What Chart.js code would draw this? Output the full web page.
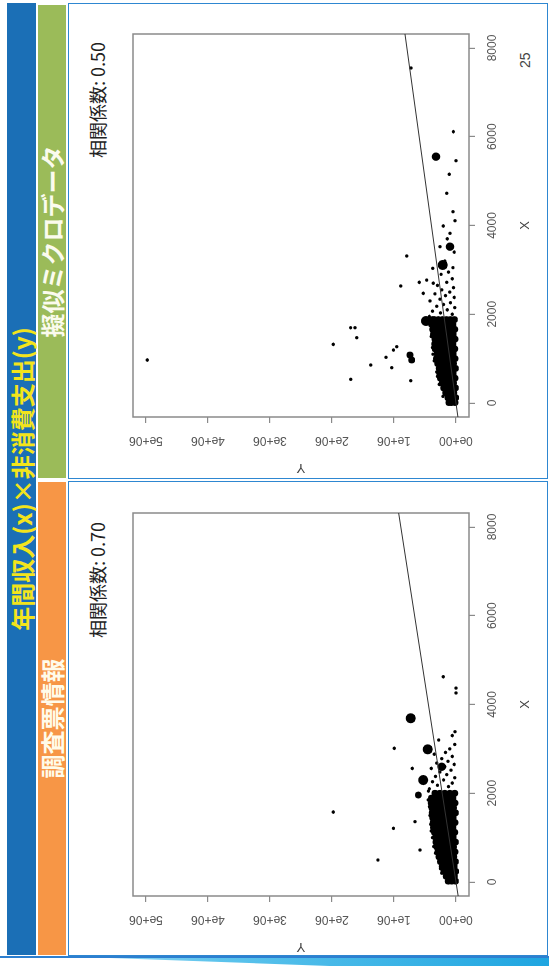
<!DOCTYPE html>
<html>
<head>
<meta charset="utf-8">
<script src="https://cdn.jsdelivr.net/npm/chart.js@4.4.0/dist/chart.umd.min.js"></script>
<style>
html, body { margin: 0; padding: 0; background: #fff; width: 549px; height: 966px; overflow: hidden; }
#slide { position: absolute; left: 0; top: 0; width: 966px; height: 549px; transform-origin: 0 0;
         transform: translate(0, 966px) rotate(-90deg); font-family: "Noto Sans CJK JP", sans-serif; }
.band { position: absolute; text-align: center; font-weight: bold; white-space: nowrap; }
.panel { position: absolute; top: 68px; height: 480px; border: 1.5px solid #2e87d1; box-sizing: border-box; }
.corr { position: absolute; top: 85px; font-size: 18px; line-height: 24px; color: #222; white-space: nowrap; }
canvas { position: absolute; top: 68px; }
#swoosh1 { position: absolute; left: 0; top: 956px; width: 549px; height: 2px; background: #2d7fd0; }
#swoosh2 { position: absolute; left: 0; top: 958px; width: 549px; height: 8px;
           background: linear-gradient(90deg, #bfe6f7 0%, #5cc3ec 40%, #1fa5e0 100%);
           clip-path: polygon(20% 0, 100% 0, 100% 100%, 60% 100%); }
</style>
</head>
<body>
<div id="slide">
  <div class="band" style="left:11px;top:7px;width:952px;height:29px;line-height:29px;background:#1b6fb6;color:#f3e41c;font-size:24px;">年間収入(x)×非消費支出(y)</div>
  <div class="band" style="left:11px;top:38px;width:473px;height:28px;line-height:28px;background:#f79646;color:#fffbea;font-size:24px;">調査票情報</div>
  <div class="band" style="left:488px;top:38px;width:473px;height:28px;line-height:28px;background:#9bbb59;color:#fbfbee;font-size:24px;">擬似ミクロデータ</div>
  <div class="panel" style="left:10px;width:475px;"></div>
  <div class="panel" style="left:487px;width:476px;"></div>
  <div class="corr" style="left:328px;">相関係数: 0.70</div>
  <div class="corr" style="left:808px;">相関係数: 0.50</div>
  <div style="position:absolute;left:898px;top:517px;font-size:14px;color:#444;font-family:'Liberation Sans',Arial,sans-serif;">25</div>
  <canvas id="survey" width="460" height="470" style="left:10px;"></canvas>
  <canvas id="synthetic" width="460" height="470" style="left:489px;"></canvas>
</div>
<div id="swoosh1"></div>
<div id="swoosh2"></div>

<script>
// axes (年間収入 x, 非消費支出 y)
const xTickValues = [0, 2000, 4000, 6000, 8000];
const yTickValues = [0, 1000000, 2000000, 3000000, 4000000, 5000000];
const xRange = [-315, 8315];
const yRange = [-209700, 5209700];

// 調査票情報: [年間収入, 非消費支出, 重み]
const surveyPoints = [
  [20,10000,2],[20,70000,2],[20,125000,2],
  [130,25000,2],[130,95000,2],[130,160000,2],
  [240,5000,2],[240,75000,2],[240,140000,2],[240,195000,2],
  [350,30000,2],[350,100000,2],[350,170000,2],[350,225000,2],
  [460,10000,2],[460,80000,2],[460,150000,2],[460,215000,2],[460,250000,2],
  [570,35000,2],[570,105000,2],[570,175000,2],[570,240000,2],[570,275000,2],
  [680,15000,2],[680,85000,2],[680,155000,2],[680,225000,2],[680,290000,2],
  [790,40000,2],[790,110000,2],[790,180000,2],[790,250000,2],[790,310000,2],
  [900,10000,2],[900,80000,2],[900,150000,2],[900,220000,2],[900,285000,2],[900,325000,2],
  [1010,45000,2],[1010,115000,2],[1010,185000,2],[1010,255000,2],[1010,330000,2],
  [1120,20000,2],[1120,90000,2],[1120,160000,2],[1120,230000,2],[1120,300000,2],[1120,350000,2],
  [1230,50000,2],[1230,120000,2],[1230,190000,2],[1230,260000,2],[1230,330000,2],[1230,365000,2],
  [1340,15000,2],[1340,85000,2],[1340,155000,2],[1340,225000,2],[1340,295000,2],[1340,370000,2],
  [1450,45000,2],[1450,115000,2],[1450,185000,2],[1450,255000,2],[1450,325000,2],[1450,375000,2],
  [1560,10000,2],[1560,80000,2],[1560,150000,2],[1560,220000,2],[1560,290000,2],[1560,360000,2],[1560,385000,2],
  [1670,40000,2],[1670,110000,2],[1670,180000,2],[1670,250000,2],[1670,320000,2],[1670,390000,2],
  [1780,15000,2],[1780,85000,2],[1780,155000,2],[1780,225000,2],[1780,295000,2],[1780,365000,2],[1780,400000,2],
  [1890,50000,2],[1890,120000,2],[1890,190000,2],[1890,260000,2],[1890,330000,2],[1890,395000,2],
  [2000,20000,2],[2000,100000,2],[2000,180000,2],[2000,260000,2],[2000,340000,2],
  [200,230000,1],[300,250000,1],[650,330000,1],[800,360000,1],[1000,380000,1],[1150,400000,1],
  [1300,410000,1],[1500,420000,1],[1700,430000,1],[1850,450000,1],[2050,445000,1],
  [2100,430000,1],[2150,120000,1],[2180,300000,1],[2230,60000,1],[2260,380000,1],[2300,200000,1],
  [2350,20000,1],[2380,330000,1],[2420,150000,1],[2480,260000,1],[2520,80000,1],[2560,400000,1],
  [2600,180000,1],[2650,30000,1],[2680,310000,1],[2720,130000,1],[2780,230000,1],[2830,60000,1],
  [2880,350000,1],[2920,170000,1],[3000,100000,1],[3100,20000,1],[3200,280000,1],[3300,60000,1],
  [3690,731000,4],[2990,456000,4],[2298,527000,4],[2597,231000,3],[1960,608000,2],
  [3013,995000,1],[2560,705000,1],[1360,661000,1],[1210,1010000,1],[721,580000,1],
  [1577,1980000,1],[496,1260000,1],[4626,205000,1],[4370,0,1],[4260,0,1],[3387,16000,1]
];
const surveyLine = [[-315, -35000], [8315, 925000]];

// 擬似ミクロデータ: [年間収入, 非消費支出, 重み]
const syntheticPoints = [
  [10,15000,2],[10,75000,2],[10,115000,2],
  [120,5000,2],[120,65000,2],[120,130000,2],
  [230,35000,2],[230,100000,2],[230,165000,2],
  [340,10000,2],[340,75000,2],[340,140000,2],[340,200000,2],
  [450,40000,2],[450,105000,2],[450,170000,2],[450,225000,2],
  [560,15000,2],[560,80000,2],[560,145000,2],[560,210000,2],[560,250000,2],
  [670,45000,2],[670,110000,2],[670,175000,2],[670,240000,2],[670,265000,2],
  [780,10000,2],[780,75000,2],[780,140000,2],[780,205000,2],[780,270000,2],
  [890,40000,2],[890,105000,2],[890,170000,2],[890,235000,2],[890,295000,2],
  [1000,15000,2],[1000,80000,2],[1000,145000,2],[1000,210000,2],[1000,275000,2],[1000,315000,2],
  [1110,45000,2],[1110,110000,2],[1110,175000,2],[1110,240000,2],[1110,305000,2],
  [1220,20000,2],[1220,85000,2],[1220,150000,2],[1220,215000,2],[1220,280000,2],[1220,335000,2],
  [1330,50000,2],[1330,115000,2],[1330,180000,2],[1330,245000,2],[1330,310000,2],[1330,345000,2],
  [1440,15000,2],[1440,80000,2],[1440,145000,2],[1440,210000,2],[1440,275000,2],[1440,340000,2],
  [1550,45000,2],[1550,110000,2],[1550,175000,2],[1550,240000,2],[1550,305000,2],[1550,365000,2],
  [1660,20000,2],[1660,85000,2],[1660,150000,2],[1660,215000,2],[1660,280000,2],[1660,345000,2],[1660,375000,2],
  [1770,50000,2],[1770,115000,2],[1770,180000,2],[1770,245000,2],[1770,310000,2],[1770,380000,2],
  [1880,25000,2],[1880,90000,2],[1880,155000,2],[1880,220000,2],[1880,285000,2],[1880,350000,2],[1880,385000,2],
  [150,210000,1],[420,270000,1],[600,300000,1],[700,310000,1],[950,350000,1],[1100,370000,1],
  [1250,380000,1],[1500,400000,1],[1750,420000,1],
  [1950,430000,1],[2000,60000,1],[2030,250000,1],[2070,380000,1],[2100,140000,1],[2150,20000,1],
  [2180,310000,1],[2220,200000,1],[2260,90000,1],[2300,420000,1],[2340,260000,1],[2380,30000,1],
  [2420,170000,1],[2460,340000,1],[2500,100000,1],[2550,230000,1],[2600,40000,1],[2650,300000,1],
  [2720,150000,1],[2800,60000,1],[2900,240000,1],[2950,120000,1],[3050,50000,1],[3200,180000,1],
  [3400,30000,1],[3700,140000,1],
  [5551,323000,3],[3523,97000,3],[3110,215000,4],[1848,484000,4],[1082,742000,2],[969,715000,2],
  [5460,0,1],[5154,108000,1],[4726,150000,1],[4108,16000,1],[3989,205000,1],[3824,97000,1],
  [3523,258000,1],[3313,795000,1],[3035,376000,1],[2637,892000,1],[2770,473000,1],[2700,366000,1],
  [2720,592000,1],[2472,527000,1],[1697,1700000,1],[1697,1630000,1],[1472,1600000,1],[1322,1980000,1],
  [1269,956000,1],[1194,1010000,1],[1030,1130000,1],[856,1376000,1],[796,1037000,1],[534,1698000,1],
  [503,731000,1],[969,4980000,1],[7549,726000,1],[6114,43000,1],[4311,48000,1]
];
const syntheticLine = [[-315, -31000], [8315, 823000]];

const pointRadius = [0, 1.7, 3.4, 4.2, 5.0];
const tickFont = { family: "'Liberation Sans', Arial, sans-serif", size: 12 };

const boxPlugin = {
  id: 'rbox',
  beforeDatasetsDraw(chart) {
    const a = chart.chartArea, ctx = chart.ctx;
    ctx.save();
    ctx.strokeStyle = '#8a8a8a';
    ctx.lineWidth = 1.5;
    ctx.strokeRect(a.left, a.top, a.right - a.left, a.bottom - a.top);
    ctx.restore();
  }
};

function yLabel(v) {
  return v === 0 ? '0e+00' : (v / 1000000) + 'e+06';
}

function drawPanel(id, points, line) {
  new Chart(document.getElementById(id).getContext('2d'), {
    type: 'scatter',
    data: {
      datasets: [
        {
          data: line.map(p => ({ x: p[0], y: p[1] })),
          showLine: true, borderColor: '#333', borderWidth: 1, pointRadius: 0, order: 0
        },
        {
          data: points.map(p => ({ x: p[0], y: p[1] })),
          backgroundColor: '#000', borderWidth: 0, order: 1,
          pointRadius: ctx => pointRadius[points[ctx.dataIndex][2]]
        }
      ]
    },
    options: {
      responsive: false,
      animation: false,
      layout: { padding: { top: 65, right: 17, left: 0, bottom: 0 } },
      plugins: { legend: { display: false }, tooltip: { enabled: false } },
      scales: {
        x: {
          type: 'linear', min: xRange[0], max: xRange[1],
          afterBuildTicks: s => { s.ticks = xTickValues.map(v => ({ value: v })); },
          afterFit: s => { s.height = 69; },
          border: { display: false },
          grid: { drawOnChartArea: false, tickLength: 6, color: '#8a8a8a', lineWidth: 1.2 },
          ticks: { font: tickFont, color: '#555', padding: 10, maxRotation: 0, callback: v => String(v) },
          title: { display: true, text: 'X', color: '#444', font: { family: tickFont.family, size: 13 }, padding: { bottom: 5 } }
        },
        y: {
          type: 'linear', min: yRange[0], max: yRange[1],
          afterBuildTicks: s => { s.ticks = yTickValues.map(v => ({ value: v })); },
          afterFit: s => { s.width = 60; },
          border: { display: false },
          grid: { drawOnChartArea: false, tickLength: 6, color: '#8a8a8a', lineWidth: 1.2 },
          ticks: { font: tickFont, color: '#555', padding: 0, minRotation: 90, maxRotation: 90, crossAlign: 'center', callback: yLabel },
          title: { display: true, text: 'Y', color: '#444', font: { family: tickFont.family, size: 13 }, padding: { top: 2 } }
        }
      }
    },
    plugins: [boxPlugin]
  });
}

drawPanel('survey', surveyPoints, surveyLine);
drawPanel('synthetic', syntheticPoints, syntheticLine);
</script>
</body>
</html>
